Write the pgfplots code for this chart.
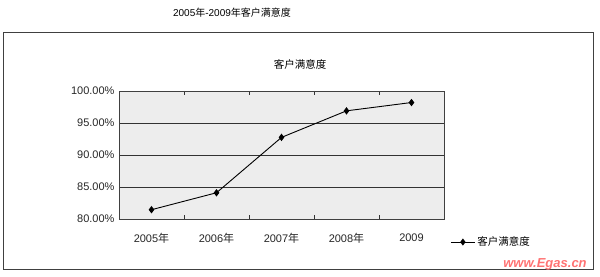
\documentclass[border=0pt]{standalone}
\usepackage{pgfplots}
\pgfplotsset{compat=1.18}
\usepackage{fontspec}
\setmainfont{Liberation Sans}
\newfontfamily\cjk{Noto Sans CJK SC}
\begin{document}
\begin{tikzpicture}[x=1pt,y=1pt]
\path (0,0) rectangle (600,276);
\draw[black!75, line width=0.9pt] (3,7) rectangle (593,244);
\node[font=\fontsize{10}{12}\selectfont] at (232,263) {2005{\cjk 年}-2009{\cjk 年客户满意度}};
\node[font=\cjk\fontsize{10.5}{12}\selectfont] at (300,212) {客户满意度};
\node[font=\bfseries\itshape\fontsize{13}{15}\selectfont, text=red!55] at (545,12) {www.Egas.cn};
\begin{axis}[
  at={(119pt,57pt)}, anchor=south west,
  scale only axis, width=325pt, height=128pt,
  xmin=-0.5, xmax=4.5, ymin=80, ymax=100,
  xtick={0,1,2,3,4},
  xticklabels={2005{\cjk 年},2006{\cjk 年},2007{\cjk 年},2008{\cjk 年},2009},
  major x tick style={draw=none},
  minor xtick={0.5,1.5,2.5,3.5},
  minor tick length=4pt,
  minor x tick style={black!80, line width=0.7pt},
  ytick={80,85,90,95,100},
  yticklabels={80.00\%,85.00\%,90.00\%,95.00\%,100.00\%},
  major y tick style={draw=none},
  ymajorgrids,
  grid style={black!80, line width=0.7pt},
  axis line style={black!75, line width=0.8pt},
  axis background/.style={fill=gray!14},
  tick label style={font=\fontsize{11}{13}\selectfont, text=black!85},
  xticklabel style={yshift=-11pt},
  yticklabel style={xshift=-1pt},
  legend style={draw=none, fill=none, at={(1.01,-0.18)}, anchor=west,
     font=\cjk\fontsize{10.5}{12}\selectfont, legend cell align=left},
  legend image code/.code={
     \draw[black, line width=0.9pt] (0pt,0pt) -- (24pt,0pt);
     \draw[black, fill=black] plot[mark=diamond*, mark size=2.8pt] coordinates {(12pt,0pt)};},
]
\addplot[black, line width=0.9pt, mark=diamond*, mark size=3pt, mark options={fill=black}]
  coordinates {(0,81.45) (1,84.1) (2,92.75) (3,96.9) (4,98.2)};
\addlegendentry{客户满意度}
\end{axis}
\end{tikzpicture}
\end{document}
